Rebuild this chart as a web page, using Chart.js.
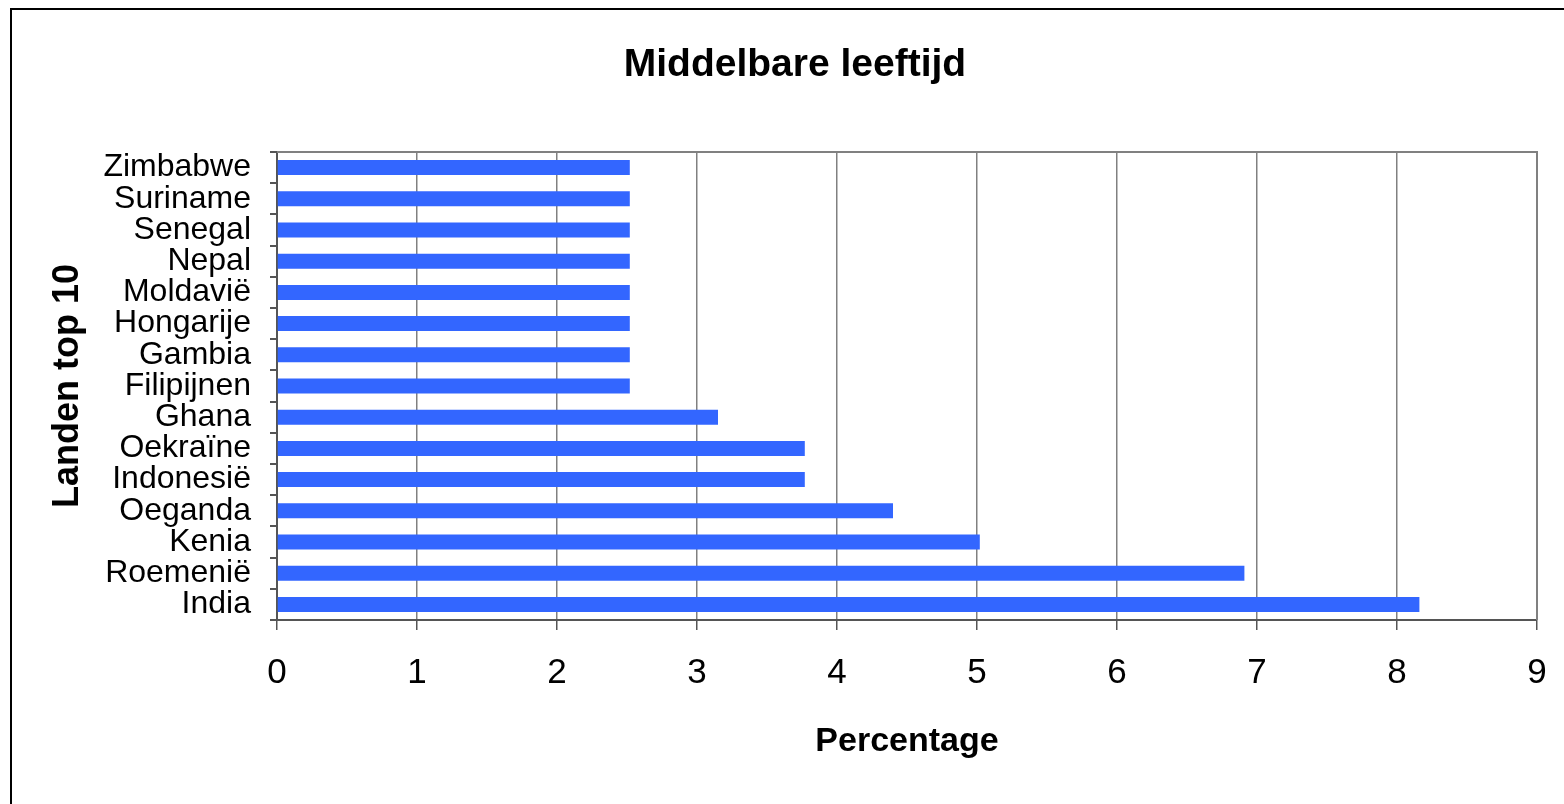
<!DOCTYPE html>
<html>
<head>
<meta charset="utf-8">
<script src="https://cdn.jsdelivr.net/npm/chart.js@4"></script>
<style>
  html, body { margin: 0; padding: 0; background: #fff; overflow: hidden; }
  #frame { position: absolute; left: 10px; top: 8px; width: 1560px; height: 820px; border: 2px solid #000; box-sizing: border-box; }
  #wrap { position: absolute; left: 0; top: 0; width: 1564px; height: 804px; }
  #title { position: absolute; left: 595px; width: 400px; top: 39px; text-align: center;
           font: bold 39px 'Liberation Sans', Arial, sans-serif; line-height: 48px; color: #000; }
</style>
</head>
<body>
<div id="frame"></div>
<div id="wrap"><canvas id="chart"></canvas></div>
<div id="title">Middelbare leeftijd</div>
<script>
// data
const landen = ['Zimbabwe', 'Suriname', 'Senegal', 'Nepal', 'Moldavië', 'Hongarije', 'Gambia',
    'Filipijnen', 'Ghana', 'Oekraïne', 'Indonesië', 'Oeganda', 'Kenia', 'Roemenië', 'India'];
const percentages = [2.52, 2.52, 2.52, 2.52, 2.52, 2.52, 2.52, 2.52, 3.15, 3.77, 3.77, 4.40, 5.02, 6.91, 8.16];
const xMin = 0;
const xMax = 9;
const xStep = 1;

const font = "'Liberation Sans', Arial, sans-serif";
const ctx = document.getElementById('chart');

// gray frame on top and right of the plot area
const plotFrame = {
    id: 'plotFrame',
    afterDraw(chart) {
        const { ctx, chartArea: a } = chart;
        ctx.save();
        ctx.strokeStyle = '#808080';
        ctx.lineWidth = 2;
        ctx.beginPath();
        ctx.moveTo(a.left, a.top);
        ctx.lineTo(a.right, a.top);
        ctx.lineTo(a.right, a.bottom);
        ctx.stroke();
        ctx.restore();
    }
};

new Chart(ctx, {
    type: 'bar',
    data: {
        labels: landen,
        datasets: [{
            label: 'Percentage',
            data: percentages,
            backgroundColor: '#3366FF',
            borderWidth: 0,
            barPercentage: 0.48,
            categoryPercentage: 1
        }]
    },
    options: {
        indexAxis: 'y',
        responsive: true,
        maintainAspectRatio: false,
        animation: false,
        layout: { padding: { left: 0, right: 27, top: 152, bottom: 0 } },
        plugins: {
            legend: { display: false },
            tooltip: { enabled: false },
            title: { display: false }
        },
        scales: {
            x: {
                min: xMin,
                max: xMax,
                ticks: {
                    stepSize: xStep,
                    color: '#000',
                    padding: 22,
                    font: { family: font, size: 35 }
                },
                grid: {
                    color: '#808080',
                    lineWidth: 1.5,
                    tickLength: 10,
                    tickColor: '#555'
                },
                border: { color: '#555', width: 2 },
                title: {
                    display: true,
                    text: 'Percentage',
                    color: '#000',
                    font: { family: font, size: 34, weight: 'bold', lineHeight: 1.2 },
                    padding: { top: 0, bottom: 42 }
                },
                afterFit: scale => {
                    scale.height = 184;
                    scale.paddingLeft = 0;
                    scale.paddingRight = 0;
                }
            },
            y: {
                offset: true,
                ticks: {
                    autoSkip: false,
                    color: '#000',
                    padding: 19,
                    font: { family: font, size: 32 }
                },
                grid: {
                    offset: true,
                    drawOnChartArea: false,
                    lineWidth: 2,
                    tickLength: 7,
                    tickColor: '#555'
                },
                border: { color: '#555', width: 2 },
                title: {
                    display: true,
                    text: 'Landen top 10',
                    color: '#000',
                    font: { family: font, size: 36, weight: 'bold', lineHeight: 1.2 },
                    padding: { top: 46, bottom: 0 }
                },
                afterFit: scale => { scale.width = 277; }
            }
        }
    },
    plugins: [plotFrame]
});
</script>
</body>
</html>
